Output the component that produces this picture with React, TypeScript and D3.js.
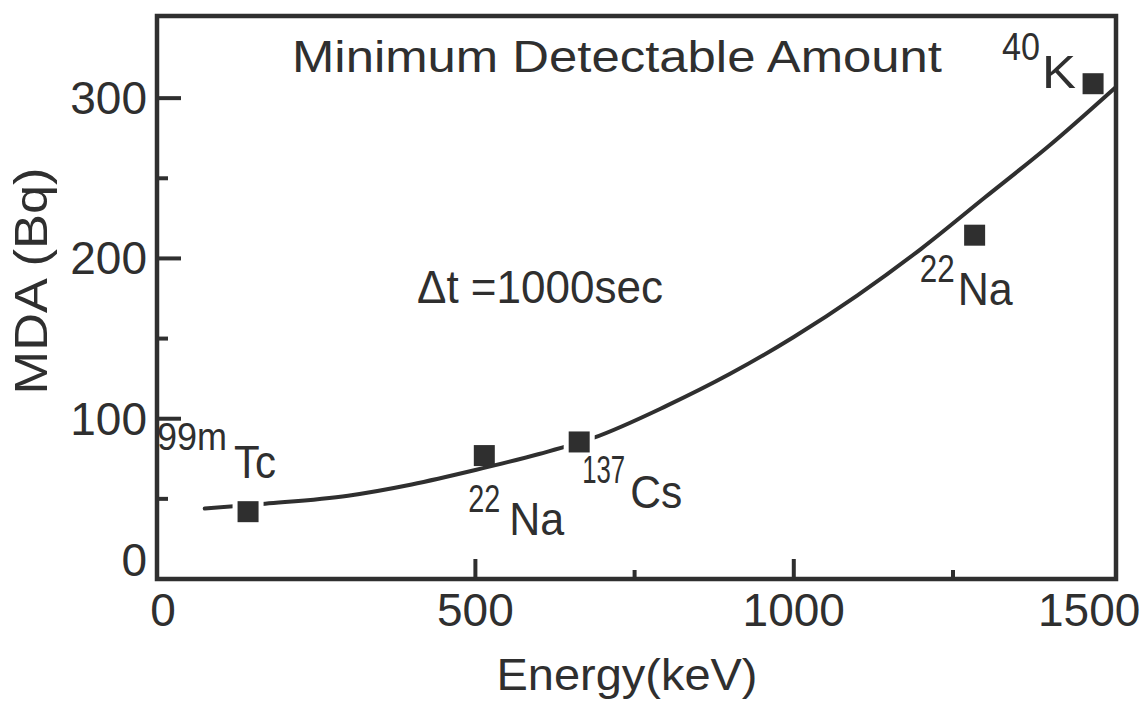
import React from "react";
import * as d3 from "d3";

// ---- data ----
const isotopes = ["99mTc", "22Na", "137Cs", "22Na", "40K"];
const isoSup = ["99m", "22", "137", "22", "40"];
const isoMain = ["Tc", "Na", "Cs", "Na", "K"];
const isoEnergy = [143, 514, 663, 1284, 1470];
const isoMDA = [42, 77, 85.5, 214.5, 309];

const curveEnergy = [75, 170, 300, 400, 500, 600, 685, 800, 900, 1000, 1100, 1200, 1300, 1400, 1506];
const curveMDA = [44, 47, 52, 59, 68, 78, 88, 108, 128, 151, 177, 206, 238, 270, 307];

const xMajorTicks = [0, 500, 1000, 1500];
const xTickMarks = [500, 1000];
const xMinorTicks = [750, 1250];
const yMajorTicks = [0, 100, 200, 300];
const yTickMarks = [100, 200, 300];
const yMinorTicks = [50, 150, 250];

const title = "Minimum Detectable Amount";
const note = "Δt =1000sec";
const xTitle = "Energy(keV)";
const yTitle = "MDA (Bq)";

// ---- layout ----
const W = 1141;
const H = 705;
const INK = "#2f2f2f";
const FONT = "'Liberation Sans', Arial, sans-serif";
const SUP_SIZE = 39;
const MAIN_SIZE = 46;

// label placement relative to marker centre (layout only)
const labelLayout = [
  { sx: -91, sy: -62, sw: 70, mx: -14, my: -34, mw: 42 },
  { sx: -16, sy: 56, sw: 32, mx: 25, my: 79, mw: 55 },
  { sx: 3, sy: 41, sw: 43, mx: 51, my: 66, mw: 52 },
  { sx: -55, sy: 47, sw: 35, mx: -17, my: 70, mw: 55 },
  { sx: -91, sy: -24, sw: 38, mx: -51, my: 4, mw: 34 },
];
const brokenLine = [true, false, true, false, false];

let measureCtx: CanvasRenderingContext2D | null = null;
function textWidth(s: string, size: number): number {
  if (!measureCtx) {
    const c = document.createElement("canvas");
    measureCtx = c.getContext("2d");
  }
  if (!measureCtx) return s.length * size * 0.55;
  measureCtx.font = `${size}px 'Liberation Sans', Arial, sans-serif`;
  return measureCtx.measureText(s).width || s.length * size * 0.55;
}

function FitText(props: { x: number; y: number; size: number; width: number; text: string }) {
  const natural = textWidth(props.text, props.size);
  const k = props.width / natural;
  return (
    <text
      transform={`translate(${props.x},${props.y}) scale(${k},1)`}
      x={0}
      y={0}
      fontSize={props.size}
      fill={INK}
    >
      {props.text}
    </text>
  );
}

export default function App() {
  const x = d3.scaleLinear().domain([0, 1506]).range([157, 1116]);
  const y = d3.scaleLinear().domain([0, 350]).range([579, 18]);
  const [x0, x1] = x.range();
  const [y0, y1] = y.range();

  const curvePts = curveEnergy.map((e, i) => [e, curveMDA[i]] as [number, number]);
  const line = d3
    .line<[number, number]>()
    .x((d) => x(d[0]))
    .y((d) => y(d[1]))
    .curve(d3.curveMonotoneX);

  const MS = 21;
  const HALO = 31;

  return (
    <svg
      width={W}
      height={H}
      viewBox={`0 0 ${W} ${H}`}
      style={{ position: "absolute", left: 0, top: 0, background: "#fff" }}
      fontFamily={FONT}
    >
      <rect x={0} y={0} width={W} height={H} fill="#fff" />

      {/* curve */}
      <path d={line(curvePts) || ""} fill="none" stroke={INK} strokeWidth={4} strokeLinecap="round" />

      {/* halos that break the curve around some markers */}
      {isotopes.map((_, i) =>
        brokenLine[i] ? (
          <rect
            key={"h" + i}
            x={x(isoEnergy[i]) - HALO / 2}
            y={y(isoMDA[i]) - HALO / 2}
            width={HALO}
            height={HALO}
            fill="#fff"
          />
        ) : null
      )}

      {/* frame */}
      <rect
        x={x0}
        y={y1 - 2}
        width={x1 - x0}
        height={y0 - y1 + 2}
        fill="none"
        stroke={INK}
        strokeWidth={4.5}
      />

      {/* y ticks (inward) */}
      {yTickMarks.map((v) => (
        <line key={"ym" + v} x1={x0} x2={x0 + 24} y1={y(v)} y2={y(v)} stroke={INK} strokeWidth={4} />
      ))}
      {yMinorTicks.map((v) => (
        <line key={"yn" + v} x1={x0} x2={x0 + 11} y1={y(v)} y2={y(v)} stroke={INK} strokeWidth={4} />
      ))}
      {/* x ticks (inward) */}
      {xTickMarks.map((v) => (
        <line key={"xm" + v} x1={x(v)} x2={x(v)} y1={y0} y2={y0 - 20} stroke={INK} strokeWidth={4} />
      ))}
      {xMinorTicks.map((v) => (
        <line key={"xn" + v} x1={x(v)} x2={x(v)} y1={y0} y2={y0 - 9} stroke={INK} strokeWidth={4} />
      ))}

      {/* y tick labels */}
      {yMajorTicks.map((v) => (
        <text
          key={"yl" + v}
          x={147}
          y={y(v) + (v === 0 ? -3 : 16)}
          textAnchor="end"
          fontSize={46}
          fill={INK}
        >
          {v}
        </text>
      ))}
      {/* x tick labels */}
      {xMajorTicks.map((v, i) => (
        <text
          key={"xl" + v}
          x={x(v) + (i === 0 ? 6 : i === xMajorTicks.length - 1 ? -23 : 0)}
          y={626}
          textAnchor="middle"
          fontSize={46}
          fill={INK}
        >
          {v}
        </text>
      ))}

      {/* markers */}
      {isotopes.map((_, i) => (
        <rect
          key={"m" + i}
          x={x(isoEnergy[i]) - MS / 2}
          y={y(isoMDA[i]) - MS / 2}
          width={MS}
          height={MS}
          fill={INK}
        />
      ))}

      {/* isotope labels */}
      {isotopes.map((_, i) => {
        const cx = x(isoEnergy[i]);
        const cy = y(isoMDA[i]);
        const o = labelLayout[i];
        return (
          <g key={"il" + i}>
            <FitText x={cx + o.sx} y={cy + o.sy} size={SUP_SIZE} width={o.sw} text={isoSup[i]} />
            <FitText x={cx + o.mx} y={cy + o.my} size={MAIN_SIZE} width={o.mw} text={isoMain[i]} />
          </g>
        );
      })}

      {/* titles */}
      <text x={292} y={72} fontSize={44} fill={INK} textLength={650} lengthAdjust="spacingAndGlyphs">
        {title}
      </text>
      <text x={417} y={303} fontSize={46} fill={INK} textLength={246} lengthAdjust="spacingAndGlyphs">
        {note}
      </text>
      <text
        x={627}
        y={690}
        fontSize={45}
        fill={INK}
        textAnchor="middle"
        textLength={261}
        lengthAdjust="spacingAndGlyphs"
      >
        {xTitle}
      </text>
      <text
        transform="translate(47,281) rotate(-90)"
        x={0}
        y={0}
        fontSize={46}
        fill={INK}
        textAnchor="middle"
        textLength={227}
        lengthAdjust="spacingAndGlyphs"
      >
        {yTitle}
      </text>
    </svg>
  );
}
